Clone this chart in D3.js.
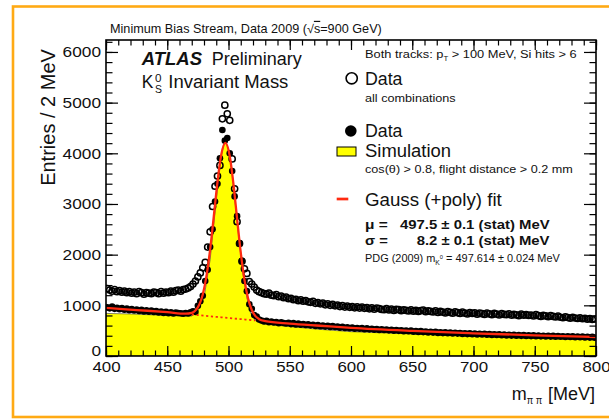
<!DOCTYPE html>
<html><head><meta charset="utf-8">
<script src="https://cdn.jsdelivr.net/npm/d3@7"></script>
<style>
html,body{margin:0;padding:0;background:#fff;}
svg{display:block;}
</style></head><body>
<svg id="c" width="609" height="420"></svg>
<script>
// ---------------- data ----------------
const massBins = d3.range(401, 800, 2); // 2 MeV bin centres, 400..800 MeV

// "Data, all combinations" (open circles)
const dataAllComb = [
 1330,1300,1280,1310,1270,1290,1260,1280,1250,1270,
 1240,1260,1230,1270,1250,1220,1250,1240,1230,1260,
 1250,1230,1270,1240,1260,1250,1280,1260,1290,1300,
 1280,1310,1320,1340,1370,
 1420,1480,1560,1640,1740,1850,2150,2450,2950,3350,3550,3760,4680,4950,4780,4650,3890,3300,2650,2220,1870,1720,1630,1470,1420,1360,1300,1270,
 1250,1230,1220,1240,1200,1190,1210,1170,1180,1150,
 1160,1130,1140,1110,1120,1090,1110,1080,1095,1070,
 1060,1080,1040,1055,1030,1045,1010,1030,1000,1020,
 990,1005,975,995,965,985,960,975,950,970,
 945,965,940,955,930,950,925,945,935,920,
 915,935,910,925,900,920,915,895,910,900,
 890,910,885,900,880,895,905,875,890,880,
 870,890,860,880,865,850,875,860,845,870,
 855,840,865,845,830,855,840,850,825,845,
 835,820,845,830,815,840,825,810,835,820,
 815,830,805,820,810,795,825,805,815,800,
 805,790,815,795,780,800,790,775,795,780,
 770,785,765,755,775,760,745,765,750,740,
 755,735,745,725,740,720,730
];

// "Data" after cos(theta) and flight-distance cuts (filled circles)
const dataSelected = [
 960,940,975,930,950,925,945,915,935,905,
 925,900,915,890,910,880,900,875,895,870,
 885,860,875,850,870,845,860,840,855,850,
 845,835,850,840,860,
 880,870,990,1080,1190,1480,1700,2150,2500,3050,3400,3900,4460,4250,4300,4000,3650,3150,2760,2230,1880,1480,1280,1020,930,810,780,720,
 700,680,695,665,680,660,670,645,665,650,
 640,655,630,648,622,640,618,632,612,625,
 605,618,592,610,588,602,580,596,574,590,
 572,580,558,576,552,566,548,560,540,552,
 538,550,528,545,526,538,520,534,514,528,
 512,524,506,518,500,514,496,508,490,504,
 488,500,480,494,476,490,472,484,466,480,
 462,476,456,470,452,466,448,462,444,458,
 442,454,436,450,432,446,430,444,426,440,
 424,438,420,434,416,430,413,428,410,424,
 406,420,403,417,400,414,398,412,396,409,
 393,407,390,404,388,401,386,399,383,397,
 381,394,379,391,376,389,374,387,371,385,
 369,382,366,379,363,377,361
];

// Simulation (yellow histogram outline)
const simMass    = [400,420,440,460,470,475,480,485,488,491,494,497,500,503,506,509,512,515,518,521,525,530,550,575,600,650,700,750,800];
const simEntries = [840,830,810,790,790,900,1150,1900,2600,3300,3950,4250,4100,3600,2900,2200,1600,1150,850,720,660,630,580,525,480,435,400,372,352];

// Gauss (+poly) fit curve
const fitMass    = [400,425,450,465,470,473,476,479,482,485,488,491,494,497.5,501,504,507,510,513,516,519,522,525,530,550,575,600,650,700,750,800];
const fitEntries = [950,907,865,835,851,897,1005,1215,1575,2101,2756,3432,3963,4206,3947,3402,2713,2044,1506,1132,909,787,727,689,640,597,555,495,448,408,375];

// polynomial background under the peak (dotted)
const bkgMass    = [470,480,490,500,510,522];
const bkgEntries = [819,796,773,750,728,702];

const xTickLabels = [400,450,500,550,600,650,700,750,800];
const yTickLabels = [0,1000,2000,3000,4000,5000,6000];
const xMinorTicks = d3.range(400, 801, 10);
const yMinorTicks = d3.range(0, 6201, 200);

// ---------------- drawing ----------------
const FONT = '"Liberation Sans", Arial, Helvetica, sans-serif';
const svg = d3.select('#c');
svg.append('rect').attr('width', 609).attr('height', 420).attr('fill', '#fff');
svg.append('rect').attr('x', 13).attr('y', 6.5).attr('width', 640).attr('height', 410.5)
  .attr('fill', 'none').attr('stroke', '#FFAA14').attr('stroke-width', 2.6);

const x = d3.scaleLinear().domain([400, 800]).range([106, 596]);
const y = d3.scaleLinear().domain([0, 6236]).range([356, 40]);

svg.append('clipPath').attr('id', 'clip').append('rect')
  .attr('x', x(400)).attr('y', y(6236)).attr('width', x(800) - x(400)).attr('height', y(0) - y(6236));
const plot = svg.append('g').attr('clip-path', 'url(#clip)');

// simulation
const simPts = simMass.map((m, i) => [m, simEntries[i]]);
plot.append('path').datum(simPts)
  .attr('d', d3.area().x(d => x(d[0])).y0(y(0)).y1(d => y(d[1])))
  .attr('fill', '#ffff00').attr('stroke', '#333').attr('stroke-width', 0.6);

// open circles
plot.append('g').selectAll('circle').data(massBins.map((m, i) => [m, dataAllComb[i]]))
  .join('circle').attr('cx', d => x(d[0])).attr('cy', d => y(d[1])).attr('r', 3.1)
  .attr('fill', 'none').attr('stroke', '#000').attr('stroke-width', 1.5);

// filled circles
plot.append('g').selectAll('circle').data(massBins.map((m, i) => [m, dataSelected[i]]))
  .join('circle').attr('cx', d => x(d[0])).attr('cy', d => y(d[1])).attr('r', 3.3)
  .attr('fill', '#000');

// fit
plot.append('path').datum(bkgMass.map((m, i) => [m, bkgEntries[i]]))
  .attr('d', d3.line().x(d => x(d[0])).y(d => y(d[1])).curve(d3.curveMonotoneX))
  .attr('fill', 'none').attr('stroke', '#ff2a10').attr('stroke-width', 1.8).attr('stroke-dasharray', '2.2,2.6');
plot.append('path').datum(fitMass.map((m, i) => [m, fitEntries[i]]))
  .attr('d', d3.line().x(d => x(d[0])).y(d => y(d[1])).curve(d3.curveMonotoneX))
  .attr('fill', 'none').attr('stroke', '#ff2a10').attr('stroke-width', 2.3);

// axes
function styleAxis(g) {
  g.select('.domain').remove();
  g.selectAll('line').attr('stroke', '#000').attr('stroke-width', 1.2);
}
const gx = svg.append('g').attr('transform', `translate(0,${y(0)})`)
  .call(d3.axisBottom(x).tickValues(xTickLabels).tickSize(-10).tickPadding(5).tickFormat(d3.format('d')));
styleAxis(gx);
gx.selectAll('text').attr('font-size', 15.5).attr('font-family', FONT).attr('fill', '#111')
  .attr('textLength', d => String(d).length * 9.4).attr('lengthAdjust', 'spacingAndGlyphs');
styleAxis(svg.append('g').attr('transform', `translate(0,${y(0)})`)
  .call(d3.axisBottom(x).tickValues(xMinorTicks).tickSize(-5.5).tickFormat('')));
styleAxis(svg.append('g').attr('transform', `translate(0,${y(6236)})`)
  .call(d3.axisTop(x).tickValues(xTickLabels).tickSize(-10).tickFormat('')));
styleAxis(svg.append('g').attr('transform', `translate(0,${y(6236)})`)
  .call(d3.axisTop(x).tickValues(xMinorTicks).tickSize(-5.5).tickFormat('')));

const gy = svg.append('g').attr('transform', `translate(${x(400)},0)`)
  .call(d3.axisLeft(y).tickValues(yTickLabels).tickSize(-12).tickPadding(5).tickFormat(d3.format('d')));
styleAxis(gy);
gy.selectAll('text').attr('font-size', 15.5).attr('font-family', FONT).attr('fill', '#111')
  .attr('textLength', d => String(d).length * 9.6).attr('lengthAdjust', 'spacingAndGlyphs')
  .attr('dy', d => d === 0 ? '-0.05em' : '0.32em');
styleAxis(svg.append('g').attr('transform', `translate(${x(400)},0)`)
  .call(d3.axisLeft(y).tickValues(yMinorTicks).tickSize(-6.5).tickFormat('')));
styleAxis(svg.append('g').attr('transform', `translate(${x(800)},0)`)
  .call(d3.axisRight(y).tickValues(yTickLabels).tickSize(-12).tickFormat('')));
styleAxis(svg.append('g').attr('transform', `translate(${x(800)},0)`)
  .call(d3.axisRight(y).tickValues(yMinorTicks).tickSize(-6.5).tickFormat('')));

// frame
svg.append('rect').attr('x', x(400)).attr('y', y(6236)).attr('width', x(800) - x(400)).attr('height', y(0) - y(6236))
  .attr('fill', 'none').attr('stroke', '#000').attr('stroke-width', 1.6);

// text helper
function label(px, py, size, parts, opts = {}) {
  const t = svg.append('text').attr('x', px).attr('y', py).attr('font-size', size)
    .attr('font-family', FONT).attr('fill', opts.fill || '#111');
  if (opts.weight) t.attr('font-weight', opts.weight);
  if (opts.anchor) t.attr('text-anchor', opts.anchor);
  parts.forEach(p => {
    if (typeof p === 'string') { t.append('tspan').text(p); return; }
    const s = t.append('tspan').text(p.t);
    if (p.dy) s.attr('dy', p.dy);
    if (p.dx) s.attr('dx', p.dx);
    if (p.size) s.attr('font-size', p.size);
    if (p.deco) s.style('text-decoration', p.deco);
    if (p.weight) s.attr('font-weight', p.weight);
    if (p.style) s.attr('font-style', p.style);
  });
  if (opts.width) {
    const w = t.node().getBBox().width;
    t.attr('x', 0).attr('y', 0).attr('transform', `translate(${px},${py}) scale(${opts.width / w},1)`);
  }
  return t;
}

label(110, 32.5, 12, ['Minimum Bias Stream, Data 2009 (√', {t: 's', deco: 'overline'}, '=900 GeV)'], {width: 272});
label(141.7, 65, 18.3, [{t: 'ATLAS', weight: 'bold', style: 'italic'}], {width: 61.3});
label(211.7, 65, 18.3, ['Preliminary'], {width: 91});
label(141.7, 88, 18.3, ['K'], {width: 11.6});
label(155, 82, 11, ['0'], {width: 6.5});
label(155, 93.3, 11, ['S'], {width: 7});
label(168.3, 88, 18.3, ['Invariant Mass'], {width: 120});

label(365, 58.3, 11.5, ['Both tracks: p', {t: 'T', size: 7, dy: 2.5}, {t: ' > 100 MeV, Si hits > 6', dy: -2.5}], {width: 212});
svg.append('circle').attr('cx', 351.7).attr('cy', 78.3).attr('r', 5.6).attr('fill', 'none').attr('stroke', '#000').attr('stroke-width', 1.6);
label(365, 85, 18.3, ['Data'], {width: 38.3});
label(365, 101.7, 11.5, ['all combinations'], {width: 91});
svg.append('circle').attr('cx', 350.8).attr('cy', 131).attr('r', 5.8).attr('fill', '#000');
label(365, 137, 18.3, ['Data'], {width: 38.3});
svg.append('rect').attr('x', 337).attr('y', 147).attr('width', 19).attr('height', 9).attr('fill', '#ffff00').attr('stroke', '#000').attr('stroke-width', 1);
label(365, 157, 18.3, ['Simulation'], {width: 86});
label(365, 173.3, 11.5, ['cos(θ) > 0.8, flight distance > 0.2 mm'], {width: 208});
svg.append('line').attr('x1', 336.7).attr('x2', 348.3).attr('y1', 199).attr('y2', 199).attr('stroke', '#ff2a10').attr('stroke-width', 2.7);
label(365, 205.5, 18.3, ['Gauss (+poly) fit'], {width: 136.7});
label(365, 228.5, 13, ['μ ='], {width: 23.3, weight: 'bold'});
label(400, 228.5, 13, ['497.5 ± 0.1 (stat) MeV'], {width: 150, weight: 'bold'});
label(365, 245.3, 13, ['σ ='], {width: 23.3, weight: 'bold'});
label(416.7, 245.3, 13, ['8.2 ± 0.1 (stat) MeV'], {width: 133.3, weight: 'bold'});
label(365, 262, 10.5, ['PDG (2009) m', {t: 'K', size: 6.5, dy: 3}, {t: '0', size: 5.5, dy: -6}, {t: ' = 497.614 ± 0.024 MeV', dy: 3}], {width: 195});

// axis titles
svg.append('text').attr('transform', 'translate(55,117.5) rotate(-90)').attr('text-anchor', 'middle')
  .attr('font-size', 20).attr('font-family', FONT).attr('fill', '#111').text('Entries / 2 MeV');
label(511.7, 400, 18.3, ['m'], {width: 15});
label(526.7, 403.5, 11, ['π π'], {width: 16});
label(548, 400, 18.3, ['[MeV]'], {width: 47});
</script></body></html>
